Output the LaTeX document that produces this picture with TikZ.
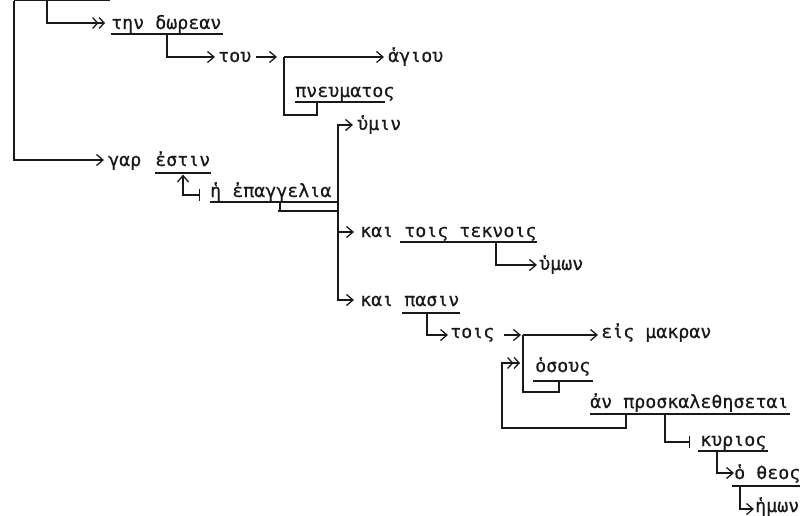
\documentclass[tikz,border=0pt]{standalone}
\usepackage{fontspec}
\newfontfamily\tw[FakeBold=0.4]{DejaVu Sans Mono}
\usetikzlibrary{arrows.meta}
\begin{document}
\begin{tikzpicture}[x=1pt,y=-1pt,
  ln/.style={line width=1.3pt,draw=black!90},
  ar/.style={ln,-{Straight Barb[length=6.5pt,width=11pt]}},
  dar/.style={ln,-{Straight Barb[length=5pt,width=11pt]Straight Barb[length=5pt,width=11pt]}},
  barar/.style={ln,{Bar[width=12pt]}-{Straight Barb[length=6.5pt,width=11pt]}},
  bar/.style={ln,-{Bar[width=12pt]}},
  wd/.style={anchor=base west,inner sep=0pt,font=\tw\fontsize{18.3}{20}\selectfont,text=black!90}]
\useasboundingbox (0,0) rectangle (800,516);

% words
\node[wd] (dorean) at (111,29) {την δωρεαν};
\node[wd] (tou) at (218,62) {του};
\node[wd] (agiou) at (388,62) {ἁγιου};
\node[wd] (pneum) at (295,97) {πνευματος};
\node[wd] (umin) at (357,130) {ὑμιν};
\node[wd] (gar) at (108,166) {γαρ};
\node[wd] (estin) at (155,166) {ἐστιν};
\node[wd] (epag) at (210,197) {ἡ ἐπαγγελια};
\node[wd] (tekn) at (360,237) {και τοις τεκνοις};
\node[wd] (umon) at (539,270) {ὑμων};
\node[wd] (pasin) at (360,306) {και πασιν};
\node[wd] (tois) at (450,338) {τοις};
\node[wd] (makran) at (601,338) {εἰς μακραν};
\node[wd] (osous) at (535,372) {ὁσους};
\node[wd] (pros) at (590,408) {ἀν προσκαλεθησεται};
\node[wd] (kurios) at (700,446) {κυριος};
\node[wd] (theos) at (734,479) {ὁ θεος};
\node[wd] (hemon) at (755,512) {ἡμων};

% coordinates
\coordinate (rootTop) at (14,0.7);
\coordinate (rootEnd) at (110,0.7);
\coordinate (branchA) at (47,0.7);
\coordinate (aDorean) at (105,23);
\coordinate (aGar) at (104,160);
\coordinate (jDor) at (167,34);
\coordinate (aTou) at (215,57);
\coordinate (tTou) at (256,57);
\coordinate (aTou2) at (277,57);
\coordinate (jAg) at (284,57);
\coordinate (aAg) at (384,57);
\coordinate (bPn) at (284,115);
\coordinate (jPn) at (317,102);
\coordinate (tEp) at (200,195);
\coordinate (aEst) at (183,174.5);
\coordinate (jEp) at (280,202);
\coordinate (jMain) at (338,211);
\coordinate (aUmin) at (353,125);
\coordinate (aTekn) at (354,232);
\coordinate (aPas) at (354,300);
\coordinate (jTek) at (496,242);
\coordinate (aUmon) at (537,265);
\coordinate (jPas) at (427,313);
\coordinate (aTois) at (448,335);
\coordinate (tTois) at (504,335);
\coordinate (aTois2) at (521,335);
\coordinate (jMak) at (523,335);
\coordinate (aMak) at (598,335);
\coordinate (bOs) at (523,392);
\coordinate (jOs) at (559,381);
\coordinate (jPros) at (626,414);
\coordinate (bPros) at (502,428);
\coordinate (aOsous) at (520,363);
\coordinate (jKur) at (665,414);
\coordinate (aKur) at (690,442);
\coordinate (jTheos) at (717,451);
\coordinate (aTheos) at (734,473);
\coordinate (jHem) at (740,486);
\coordinate (aHem) at (754,509);

% underlines
\draw[ln] (111,34) -- (223,34);
\draw[ln] (295,102) -- (385,102);
\draw[ln] (155,173) -- (211,173);
\draw[ln] (210,202) -- (337,202);
\draw[ln] (278,211) -- (338,211);
\draw[ln] (400,242) -- (537,242);
\draw[ln] (402,313) -- (460,313);
\draw[ln] (533,381) -- (593,381);
\draw[ln] (590,414) -- (790,414);
\draw[ln] (698,451) -- (768,451);
\draw[ln] (732,486) -- (800,486);

% connectors
\draw[ln] (rootEnd) -- (rootTop);
\draw[ar] (rootTop) |- (aGar);
\draw[dar] (branchA) |- (aDorean);
\draw[ar] (jDor) |- (aTou);
\draw[ar] (tTou) -- (aTou2);
\draw[ar] (jAg) -- (aAg);
\draw[ln] (jAg) -- (bPn) -| (jPn);
\draw[barar] (tEp) -| (aEst);
\draw[ln] (jEp) -- (jEp |- jMain);
\draw[ar] (jMain) |- (aUmin);
\draw[ar] (jMain) |- (aTekn);
\draw[ar] (jMain) |- (aPas);
\draw[ar] (jTek) |- (aUmon);
\draw[ar] (jPas) |- (aTois);
\draw[ar] (tTois) -- (aTois2);
\draw[ar] (jMak) -- (aMak);
\draw[ln] (jMak) -- (bOs) -| (jOs);
\draw[dar] (jPros) |- (bPros) |- (aOsous);
\draw[bar] (jKur) |- (aKur);
\draw[ar] (jTheos) |- (aTheos);
\draw[ar] (jHem) |- (aHem);
\end{tikzpicture}
\end{document}
